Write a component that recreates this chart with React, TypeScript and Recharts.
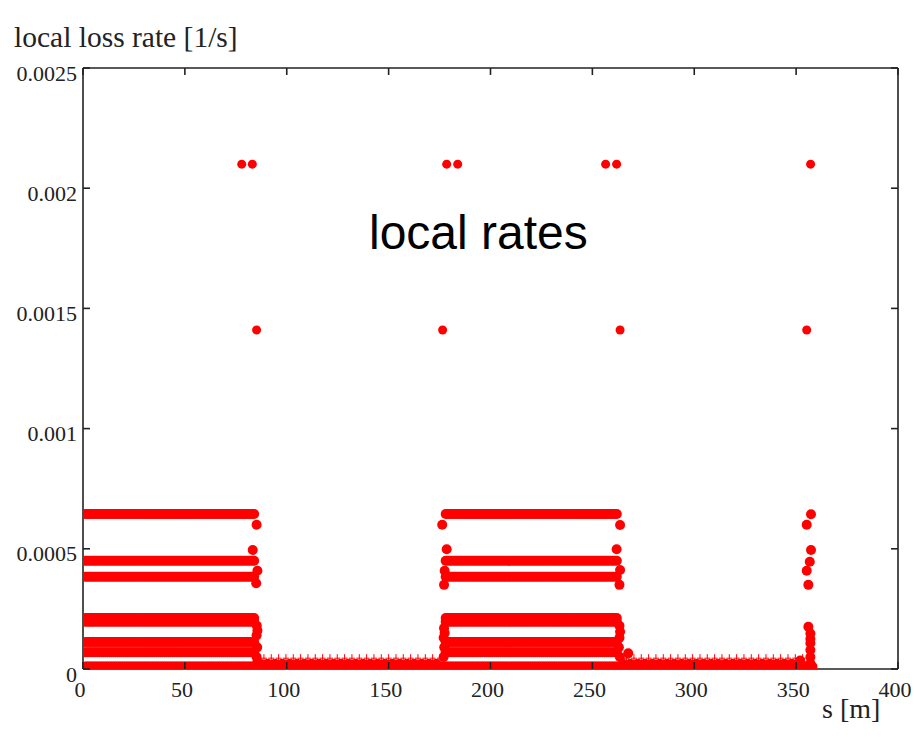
import React from 'react';
import { ScatterChart, Scatter, XAxis, YAxis } from 'recharts';

const RED = '#f00';
const AXIS = '#222';
const SERIF = '"Liberation Serif", "Times New Roman", serif';
const SANS = '"Liberation Sans", Arial, sans-serif';
const TICK_LEN = 7;

// axes: position s [m] and local loss rate [1/s]
const sTicks = [0, 50, 100, 150, 200, 250, 300, 350, 400];
const rateTicks = [0, 0.0005, 0.001, 0.0015, 0.002, 0.0025];
const rateTickLabels = ['0', '0.0005', '0.001', '0.0015', '0.002', '0.0025'];

// arc sections with elevated loss rates: [start, end] in m
const plateauSpans = [
  [1, 84.5],
  [178, 262.5],
];
const plateauRates = [0.000645, 0.00045, 0.000384, 0.000212, 0.000197, 0.000112, 0.00007];

// baseline rate along the ring
const baseSpan = [1, 358];
const baseRate = 0.00001;

// straight sections: small ripple and marker points
const straightSpans = [
  [87, 176],
  [265, 354],
];
const rippleRate = 0.000022;
const markerRate = 0.000045;
const ripplePitch = 3.6;

// element sampling step along s [m]
const sampleStep = 1;

// isolated high-rate points
const peakS = [77.9, 83.1, 178.5, 183.9, 256.5, 261.9, 357.1];
const peakRate = 0.0021;
const midS = [85.2, 176.5, 263.6, 355.2];
const midRate = 0.00141;

// points at the plateau edges and the last spike
const edgeS = [
  85.2, 83.3, 85.6, 85.0, 85.3, 85.6, 85.2, 85.5, 85.2, 85.6,
  176.3, 178.5, 177.5, 177.2, 177.2, 177.5, 177.0, 177.3, 177.0,
  263.6, 261.9, 263.6, 263.3, 263.3, 263.6, 263.3, 263.0, 263.5, 267.6,
  357.3, 355.2, 357.3, 356.7, 355.2, 356.0, 356.0, 357.0, 357.0, 357.0, 357.0, 357.0, 357.0, 352.0,
];
const edgeRate = [
  0.0006, 0.000495, 0.000409, 0.000357, 0.00018, 0.00016, 0.00014, 0.00009, 0.00005, 0.00003,
  0.0006, 0.000498, 0.000409, 0.00035, 0.00017, 0.00015, 0.00013, 0.00009, 0.00005,
  0.000599, 0.000498, 0.000412, 0.00035, 0.00018, 0.000155, 0.00013, 0.00009, 0.00005, 0.000065,
  0.000644, 0.0006, 0.000495, 0.000446, 0.000409, 0.00035, 0.000176, 0.000148, 0.000125, 0.000107, 0.000079, 0.00005, 0.000024, 0.000035,
];

type Pt = { s: number; rate: number };

const positions = (a: number, b: number, step: number) => {
  const out: number[] = [];
  for (let s = a; s <= b + 1e-9; s += step) out.push(+s.toFixed(3));
  return out;
};

const plateauPts: Pt[] = plateauSpans.flatMap(([a, b]) =>
  plateauRates.flatMap((rate) => positions(a, b, sampleStep).map((s) => ({ s, rate })))
);
const basePts: Pt[] = positions(baseSpan[0], baseSpan[1], sampleStep).map((s) => ({ s, rate: baseRate }));
const ripplePts: Pt[] = straightSpans.flatMap(([a, b]) =>
  positions(a, b, ripplePitch).map((s) => ({ s, rate: rippleRate }))
);
const markerPts: Pt[] = straightSpans.flatMap(([a, b]) =>
  positions(a + 1.8, b, ripplePitch).map((s) => ({ s, rate: markerRate }))
);
const peakPts: Pt[] = peakS.map((s) => ({ s, rate: peakRate }));
const midPts: Pt[] = midS.map((s) => ({ s, rate: midRate }));
const edgePts: Pt[] = edgeS.map((s, i) => ({ s, rate: edgeRate[i] }));

const Dot = (p: any) => <circle cx={p.cx} cy={p.cy} r={5} fill={RED} />;
const SmallDot = (p: any) => <circle cx={p.cx} cy={p.cy} r={4.5} fill={RED} />;
const Cross = (p: any) => (
  <path
    d={`M${p.cx - 3},${p.cy}h6M${p.cx},${p.cy - 4}v8`}
    stroke={RED}
    strokeWidth={1}
    fill="none"
  />
);

// ticks point into the plot box; each tick renderer draws its own mark
const BottomTick = (p: any) => (
  <g>
    <line x1={p.x} y1={p.y} x2={p.x} y2={p.y - TICK_LEN} stroke={AXIS} strokeWidth={1.6} />
    <text x={p.x - 3} y={p.y + 28} textAnchor="middle" fontFamily={SERIF} fontSize={22} fill="#222">
      {p.payload.value}
    </text>
  </g>
);

const TopTick = (p: any) => (
  <line x1={p.x} y1={p.y} x2={p.x} y2={p.y + TICK_LEN} stroke={AXIS} strokeWidth={1.6} />
);

const LeftTick = (p: any) => {
  const idx = rateTicks.indexOf(p.payload.value);
  return (
    <g>
      <line x1={p.x} y1={p.y} x2={p.x + TICK_LEN} y2={p.y} stroke={AXIS} strokeWidth={1.6} />
      <text x={p.x - 6} y={p.y + 12.5} textAnchor="end" fontFamily={SERIF} fontSize={22} fill="#222">
        {rateTickLabels[idx] ?? String(p.payload.value)}
      </text>
    </g>
  );
};

const RightTick = (p: any) => (
  <line x1={p.x} y1={p.y} x2={p.x - TICK_LEN} y2={p.y} stroke={AXIS} strokeWidth={1.6} />
);

const lineStyle = { stroke: AXIS, strokeWidth: 1.6 };

export default function App() {
  return (
    <div style={{ position: 'absolute', left: 0, top: 0, width: 914, height: 737, background: '#fff' }}>
      <ScatterChart width={914} height={737} margin={{ top: 58, right: 6, bottom: 28, left: 0 }}>
        <XAxis
          xAxisId="b"
          type="number"
          dataKey="s"
          domain={[0, 400]}
          ticks={sTicks}
          interval={0}
          orientation="bottom"
          height={40}
          axisLine={lineStyle}
          tickLine={false}
          tickSize={0}
          tickMargin={0}
          tick={<BottomTick />}
          allowDataOverflow
        />
        <XAxis
          xAxisId="t"
          type="number"
          dataKey="s"
          domain={[0, 400]}
          ticks={sTicks}
          interval={0}
          orientation="top"
          height={10}
          axisLine={lineStyle}
          tickLine={false}
          tickSize={0}
          tickMargin={0}
          tick={<TopTick />}
          allowDataOverflow
        />
        <YAxis
          yAxisId="l"
          type="number"
          dataKey="rate"
          domain={[0, 0.0025]}
          ticks={rateTicks}
          interval={0}
          orientation="left"
          width={83}
          axisLine={lineStyle}
          tickLine={false}
          tickSize={0}
          tickMargin={0}
          tick={<LeftTick />}
          allowDataOverflow
        />
        <YAxis
          yAxisId="r"
          type="number"
          dataKey="rate"
          domain={[0, 0.0025]}
          ticks={rateTicks}
          interval={0}
          orientation="right"
          width={10}
          axisLine={lineStyle}
          tickLine={false}
          tickSize={0}
          tickMargin={0}
          tick={<RightTick />}
          allowDataOverflow
        />
        <Scatter xAxisId="b" yAxisId="l" data={basePts} shape={Dot} isAnimationActive={false} />
        <Scatter xAxisId="b" yAxisId="l" data={ripplePts} shape={Dot} isAnimationActive={false} />
        <Scatter xAxisId="b" yAxisId="l" data={markerPts} shape={Cross} isAnimationActive={false} />
        <Scatter xAxisId="b" yAxisId="l" data={plateauPts} shape={Dot} isAnimationActive={false} />
        <Scatter xAxisId="b" yAxisId="l" data={edgePts} shape={Dot} isAnimationActive={false} />
        <Scatter xAxisId="t" yAxisId="r" data={peakPts} shape={SmallDot} isAnimationActive={false} />
        <Scatter xAxisId="t" yAxisId="r" data={midPts} shape={SmallDot} isAnimationActive={false} />
      </ScatterChart>
      <svg
        width={914}
        height={737}
        style={{ position: 'absolute', left: 0, top: 0, pointerEvents: 'none' }}
      >
        <text x={14} y={47} fontFamily={SERIF} fontSize={29.5} fill="#222">
          local loss rate [1/s]
        </text>
        <text x={822} y={718} fontFamily={SERIF} fontSize={28} fill="#222">
          s [m]
        </text>
        <text x={369} y={249} fontFamily={SANS} fontSize={48} fill="#000">
          local rates
        </text>
      </svg>
    </div>
  );
}
